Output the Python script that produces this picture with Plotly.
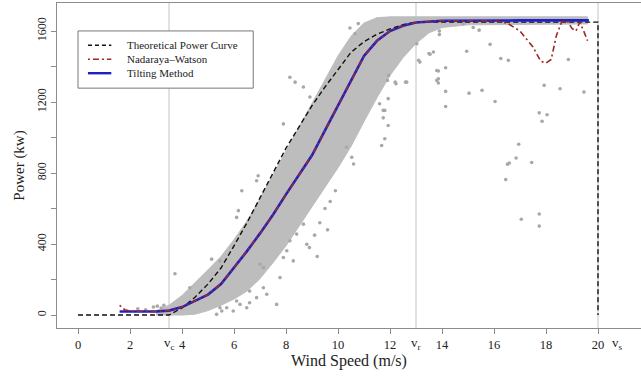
import plotly.graph_objects as go

# ---------------- data ----------------
# Theoretical power curve (kW)
theo_x = [0, 3.5, 4.0, 4.5, 5.0, 5.5, 6.0, 6.5, 7.0, 7.5, 8.0, 8.5, 9.0, 9.5, 10.0, 10.5, 11.0, 11.5, 12.0, 12.5, 13.0, 20.0, 20.0]
theo_y = [0, 0, 40, 100, 175, 265, 390, 520, 660, 800, 940, 1060, 1180, 1285, 1385, 1480, 1540, 1582, 1612, 1636, 1650, 1650, 0]

# Tilting method estimate
tilt_x = [1.6, 2.0, 2.5, 3.0, 3.5, 4.0, 4.5, 5.0, 5.5, 6.0, 6.5, 7.0, 7.5, 8.0, 8.5, 9.0, 9.5, 10.0, 10.5, 11.0, 11.5, 12.0, 12.5, 13.0, 14.0, 15.0, 17.0, 19.65]
tilt_y = [20, 20, 20, 20, 25, 45, 80, 115, 175, 265, 360, 460, 565, 680, 790, 900, 1040, 1180, 1320, 1460, 1545, 1600, 1630, 1648, 1658, 1660, 1660, 1660]

# Nadaraya-Watson estimate
nw_x = [1.6, 1.8, 2.0, 2.5, 3.0, 3.5, 4.0, 4.5, 5.0, 5.5, 6.0, 6.5, 7.0, 7.5, 8.0, 8.5, 9.0, 9.5, 10.0, 10.5, 11.0, 11.5, 12.0, 12.5, 13.0, 14.0, 15.0, 16.0,
        16.5, 17.0, 17.5, 17.8, 18.0, 18.2, 18.4, 18.6, 18.8, 19.0, 19.15, 19.3, 19.45, 19.6]
nw_y = [55, 30, 22, 20, 20, 25, 45, 80, 115, 175, 265, 360, 460, 565, 680, 790, 900, 1040, 1180, 1320, 1460, 1545, 1600, 1630, 1648, 1658, 1660, 1658,
        1645, 1600, 1510, 1430, 1420, 1440, 1575, 1650, 1660, 1615, 1600, 1650, 1600, 1545]

# Dense cloud of observations: upper / lower edge
band_up_x = [3.0, 3.5, 4.0, 4.5, 5.0, 5.5, 6.0, 6.5, 7.0, 7.5, 8.0, 8.5, 9.0, 9.5, 10.0, 10.5, 11.0, 11.5, 12.0, 13.0, 16.0, 19.6]
band_up_y = [25, 55, 110, 180, 255, 330, 425, 530, 655, 790, 925, 1060, 1195, 1330, 1460, 1570, 1645, 1675, 1680, 1680, 1680, 1680]
band_lo_x = [3.0, 3.5, 4.0, 4.5, 5.0, 5.5, 6.0, 6.5, 7.0, 7.5, 8.0, 8.5, 9.0, 9.5, 10.0, 10.5, 11.0, 11.5, 12.0, 12.5, 13.0, 13.5, 14.0, 15.0, 19.6]
band_lo_y = [0, 0, 0, 5, 25, 55, 90, 135, 205, 295, 390, 495, 605, 720, 830, 950, 1090, 1225, 1350, 1450, 1530, 1590, 1620, 1635, 1640]

# Scattered observations outside the dense cloud
out_x = [15.85, 14.95, 16.26, 16.55, 13.86, 14.14, 13.86, 13.86, 14.14, 15.04, 15.54, 16.04, 14.14, 17.93, 18.54, 19.46, 18.86,
         17.74, 18.04, 17.85, 16.95, 16.85, 16.59, 16.52, 17.45, 16.45, 17.74, 17.05, 17.74,
         13.03, 13.54, 12.64, 12.23, 11.93, 11.74, 11.74, 11.93, 11.80, 11.68,
         14.82, 15.20, 15.43, 13.90, 13.90, 13.80, 13.80, 11.60, 11.80, 11.90, 11.95, 12.60, 12.20, 13.10, 13.15, 13.50, 13.67,
         10.46, 10.65, 10.78, 8.15, 8.35, 8.67, 7.90, 8.92, 6.93, 10.33, 10.53, 10.60,
         3.73, 5.14, 5.46, 6.17, 6.10, 6.30, 6.87, 4.30,
         5.33, 5.53, 5.72, 6.10, 6.23, 6.49, 6.60, 6.87, 7.13, 7.26, 7.64, 7.77, 7.90, 8.03, 8.15, 8.41, 8.28, 8.67, 8.80,
         5.97, 5.46, 7.00, 7.13, 6.60,
         8.9, 9.1, 9.3, 9.5, 9.7, 9.9, 9.2, 9.6,
         2.9, 3.05, 3.2, 3.3, 2.3, 2.6]
out_y = [1525, 1486, 1445, 1435, 1375, 1393, 1331, 1307, 1260, 1250, 1266, 1203, 1175, 1294, 1275, 1256, 1440,
         1139, 1128, 1092, 962, 885, 857, 850, 859, 763, 569, 540, 501,
         1529, 1469, 1312, 1303, 1219, 1153, 1111, 1068, 993, 955,
         1642, 1620, 1605, 1600, 1580, 1378, 1322, 1190, 1153, 1322, 1350, 1312, 1312, 1435, 1425, 1473, 1482,
         1617, 1585, 1642, 1340, 1312, 1285, 1077, 1228, 785, 945, 889, 851,
         233, 315, 305, 588, 550, 700, 757, 154,
         4, 23, 41, 79, 60, 41, 69, 98, 154, 117, 60, 211, 324, 362, 418, 456, 305, 512, 399,
         23, 41, 286, 267, 135,
         380, 450, 520, 600, 640, 700, 330, 480,
         45, 50, 40, 55, 35, 30]

# Characteristic speeds
v_pos = [3.5, 13.0, 20.0]
v_lab = ["v<sub>c</sub>", "v<sub>r</sub>", "v<sub>s</sub>"]
v_lab_pos = [3.5, 13.0, 20.75]

x_ticks = list(range(0, 21, 2))
y_ticks = list(range(0, 1601, 200))
y_ticktext = [str(v) if v % 400 == 0 else "" for v in y_ticks]

legend_names = ["Theoretical Power Curve", "Nadaraya\u2013Watson", "Tilting Method"]

# ---------------- figure ----------------
FONT = "Liberation Serif, Times New Roman, serif"
GRAYLINE = "#c4c4c4"
AXIS = "#8c8c8c"
CLOUD = "#bdbdbd"
C_THEO = "#111111"
C_NW = "#9a2a22"
C_TILT = "#1f1fc8"

fig = go.Figure()

# vertical reference lines
for v in v_pos:
    fig.add_shape(type="line", x0=v, x1=v, y0=0, y1=1, xref="x", yref="paper",
                  line=dict(color=GRAYLINE, width=1), layer="below")

# dense cloud
fig.add_trace(go.Scatter(x=band_up_x + band_lo_x[::-1], y=band_up_y + band_lo_y[::-1],
                         fill="toself", fillcolor=CLOUD, mode="lines",
                         line=dict(color=CLOUD, width=1), hoverinfo="skip", showlegend=False))
# scattered points
fig.add_trace(go.Scatter(x=out_x, y=out_y, mode="markers",
                         marker=dict(color="#a8a8a8", size=3.6, symbol="circle"),
                         showlegend=False))

# curves
fig.add_trace(go.Scatter(x=theo_x, y=theo_y, mode="lines",
                         line=dict(color=C_THEO, width=1.4, dash="5px,3px"), showlegend=False))
fig.add_trace(go.Scatter(x=tilt_x, y=tilt_y, mode="lines",
                         line=dict(color=C_TILT, width=2.6), showlegend=False))
fig.add_trace(go.Scatter(x=nw_x, y=nw_y, mode="lines",
                         line=dict(color=C_NW, width=1.6, dash="2px,3px,6px,3px"), showlegend=False))

# characteristic speed labels
for xp, t in zip(v_lab_pos, v_lab):
    fig.add_annotation(x=xp, y=0, xref="x", yref="paper", text=t, showarrow=False,
                       yanchor="top", yshift=-5, font=dict(family=FONT, size=13, color="#222"))

# manual legend (box, samples, labels)
fig.add_shape(type="rect", xref="paper", yref="paper", x0=0.036, x1=0.336, y0=0.738, y1=0.914,
              line=dict(color="#777", width=1), fillcolor="white")
rows = [0.870, 0.827, 0.784]
styles = [dict(color=C_THEO, width=1.4, dash="4px,3px"),
          dict(color=C_NW, width=1.6, dash="2px,3px,6px,3px"),
          dict(color=C_TILT, width=2.4)]
for r, st, name in zip(rows, styles, legend_names):
    fig.add_shape(type="line", xref="paper", yref="paper", x0=0.053, x1=0.093, y0=r, y1=r, line=st)
    fig.add_annotation(xref="paper", yref="paper", x=0.116, y=r, text=name, showarrow=False,
                       xanchor="left", yanchor="middle", font=dict(family=FONT, size=11, color="#222"))

fig.update_layout(
    width=641, height=376,
    margin=dict(l=57, r=0, t=3, b=48),
    plot_bgcolor="white", paper_bgcolor="white",
    font=dict(family=FONT, size=12, color="#222"),
    showlegend=False,
)
fig.update_xaxes(range=[-0.808, 21.654], tickvals=x_ticks, ticks="outside", ticklen=5,
                 tickcolor=AXIS, showline=True, linecolor=AXIS, linewidth=1, mirror=True,
                 showgrid=False, zeroline=False,
                 title=dict(text="Wind Speed (m/s)", font=dict(family=FONT, size=16), standoff=3),
                 tickfont=dict(family=FONT, size=12.5))
fig.update_yaxes(range=[-73, 1758], tickvals=y_ticks, ticktext=y_ticktext, tickangle=-90,
                 ticks="outside", ticklen=5, tickcolor=AXIS, showline=True, linecolor=AXIS,
                 linewidth=1, mirror=False, showgrid=False, zeroline=False,
                 title=dict(text="Power (kw)", font=dict(family=FONT, size=15), standoff=6),
                 tickfont=dict(family=FONT, size=12))

fig.write_html("out.html")
